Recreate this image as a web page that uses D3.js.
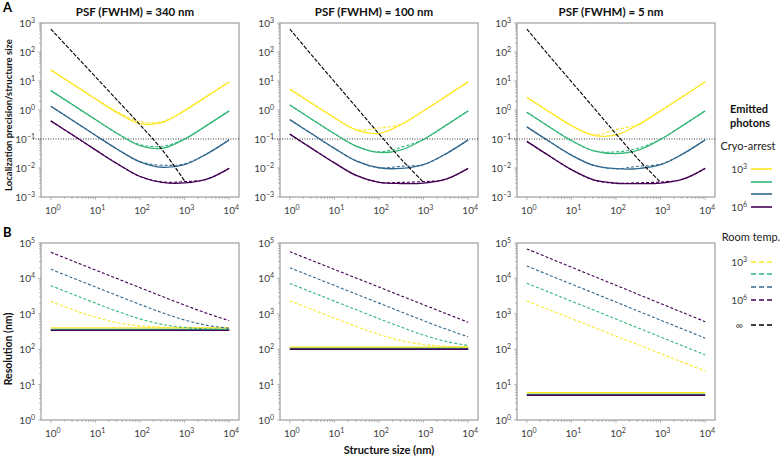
<!DOCTYPE html>
<html>
<head>
<meta charset="utf-8">
<script src="https://cdn.jsdelivr.net/npm/d3@7"></script>
<style>
  body { margin: 0; background: #fff; }
  text { font-family: Lato, "Open Sans", sans-serif; }
</style>
</head>
<body>
<svg id="chart" width="780" height="458"></svg>
<script>
// structure sizes (nm), half-decade steps
const sizes = [1, 3.16, 10, 31.6, 100, 316, 1000, 3162, 10000];
const psfTitles = ["PSF (FWHM) = 340 nm", "PSF (FWHM) = 100 nm", "PSF (FWHM) = 5 nm"];
const photonExp = ["3", "4", "5", "6"];
const colors = ["#fde725", "#35b779", "#31688e", "#440154"];
const xTicks = [0, 1, 2, 3, 4];
const yTicksA = [-3, -2, -1, 0, 1, 2, 3];
const yTicksB = [0, 1, 2, 3, 4, 5];

// A: localization precision / structure size, one row per photon count (1e3..1e6)
const precCryo340 = [
  [24.2, 7.65, 2.43, 0.794, 0.336, 0.372, 0.955, 2.95, 9.30],
  [4.67, 1.48, 0.469, 0.152, 0.0589, 0.0477, 0.0993, 0.296, 0.931],
  [1.35, 0.427, 0.135, 0.0436, 0.0164, 0.0106, 0.0132, 0.0308, 0.0935],
  [0.422, 0.134, 0.0423, 0.0137, 0.0051, 0.00318, 0.00305, 0.00411, 0.00973]
];
const precRoom340 = [
  [24.2, 7.65, 2.43, 0.84, 0.40, 0.40, 0.955, 2.95, 9.30],
  [4.67, 1.48, 0.469, 0.152, 0.064, 0.056, 0.100, 0.296, 0.931],
  [1.35, 0.427, 0.135, 0.0436, 0.0164, 0.0125, 0.0140, 0.0308, 0.0935],
  [0.422, 0.134, 0.0423, 0.0137, 0.0051, 0.0033, 0.0034, 0.00411, 0.00973]
];
const precInf340 = [620, 93, 14, 2.1, 0.31, 0.042, 0.0036, null, null];

const precCryo100 = [
  [5.26, 1.67, 0.538, 0.203, 0.156, 0.316, 0.937, 2.94, 9.30],
  [1.49, 0.472, 0.152, 0.0556, 0.0343, 0.0419, 0.0976, 0.296, 0.931],
  [0.466, 0.148, 0.0474, 0.0173, 0.0102, 0.00966, 0.0130, 0.0308, 0.0935],
  [0.147, 0.0466, 0.0150, 0.00546, 0.00322, 0.00292, 0.00302, 0.00411, 0.00973]
];
const precRoom100 = [
  [5.26, 1.67, 0.538, 0.21, 0.24, 0.33, 0.937, 2.94, 9.30],
  [1.49, 0.472, 0.152, 0.0556, 0.036, 0.052, 0.0976, 0.296, 0.931],
  [0.466, 0.148, 0.0474, 0.0173, 0.0102, 0.0115, 0.0133, 0.0308, 0.0935],
  [0.147, 0.0466, 0.0150, 0.00546, 0.00322, 0.0032, 0.0034, 0.00411, 0.00973]
];
const precInf100 = [620, 75, 9.5, 1.2, 0.15, 0.02, 0.0032, null, null];

const precCryo5 = [
  [2.74, 0.870, 0.291, 0.134, 0.138, 0.310, 0.935, 2.94, 9.30],
  [0.833, 0.265, 0.0881, 0.0392, 0.0315, 0.0413, 0.0974, 0.296, 0.931],
  [0.262, 0.0834, 0.0277, 0.0123, 0.00948, 0.00957, 0.0130, 0.0308, 0.0935],
  [0.0829, 0.0264, 0.00877, 0.00388, 0.00298, 0.00289, 0.00301, 0.00411, 0.00973]
];
const precRoom5 = [
  [2.74, 0.870, 0.291, 0.14, 0.21, 0.32, 0.935, 2.94, 9.30],
  [0.833, 0.265, 0.0881, 0.0392, 0.036, 0.048, 0.0974, 0.296, 0.931],
  [0.262, 0.0834, 0.0277, 0.0123, 0.00948, 0.0115, 0.0135, 0.0308, 0.0935],
  [0.0829, 0.0264, 0.00877, 0.00388, 0.00298, 0.0031, 0.0033, 0.00411, 0.00973]
];
const precInf5 = [620, 75, 9.5, 1.2, 0.15, 0.02, 0.0032, null, null];

// B: resolution (nm); cryo is flat per photon count
const resCryo340 = [400, 360, 345, 340];
const resRoom340 = [
  [2226, 1295, 800, 558, 456, 418, 406, 402, 401],
  [6240, 3521, 2003, 1165, 720, 502, 410, 377, 365],
  [18100, 10190, 5734, 3237, 1843, 1075, 668, 472, 390],
  [54600, 30700, 17270, 9716, 5471, 3089, 1760, 1029, 643]
];
const resCryo100 = [114, 105, 101, 100];
const resRoom100 = [
  [2353, 1326, 752, 433, 261, 174, 136, 121, 116],
  [7201, 4050, 2279, 1284, 728, 418, 251, 166, 127],
  [20000, 11247, 6325, 3557, 2003, 1130, 640, 370, 224],
  [56800, 31940, 17960, 10100, 5680, 3196, 1799, 1015, 577]
];
const resCryo5 = [5.9, 5.3, 5.05, 5.0];
const resRoom5 = [
  [2290, 1300, 733, 415, 234, 133, 75, 42.5, 24],
  [7300, 4074, 2275, 1271, 710, 396, 221, 124, 69],
  [22400, 12450, 6920, 3855, 2143, 1191, 662, 369, 205],
  [68000, 37700, 20800, 11500, 6400, 3530, 1950, 1080, 600]
];

const panelsA = [
  { cryo: precCryo340, room: precRoom340, inf: precInf340 },
  { cryo: precCryo100, room: precRoom100, inf: precInf100 },
  { cryo: precCryo5, room: precRoom5, inf: precInf5 }
];
const panelsB = [
  { cryo: resCryo340, room: resRoom340 },
  { cryo: resCryo100, room: resRoom100 },
  { cryo: resCryo5, room: resRoom5 }
];

const svg = d3.select("#chart");
const lefts = [41, 280, 517];
const panelW = 198;
const rowA = { top: 23, bottom: 197 };
const rowB = { top: 243, bottom: 420 };

function powLabel(g, x, y, exp, anchor, size) {
  const t = g.append("text")
    .attr("x", x).attr("y", y)
    .attr("text-anchor", anchor)
    .attr("font-size", size)
    .attr("fill", "#404040");
  t.append("tspan").text("10");
  t.append("tspan").attr("dy", -4).attr("font-size", size * 0.7).text(exp);
  return t;
}

function minorTicks(lo, hi) {
  const out = [];
  for (let e = lo; e < hi; e++) {
    for (let m = 2; m <= 9; m++) out.push(m * Math.pow(10, e));
  }
  return out;
}

function drawFrame(g, left, row, x, y, yExps) {
  const frameTicks = g.append("g").attr("stroke", "#aaa").attr("stroke-width", 0.8);
  // x ticks
  xTicks.forEach(e => {
    const px = x(Math.pow(10, e));
    frameTicks.append("line").attr("x1", px).attr("x2", px)
      .attr("y1", row.bottom).attr("y2", row.bottom + 3);
  });
  minorTicks(0, 4).forEach(v => {
    const px = x(v);
    frameTicks.append("line").attr("x1", px).attr("x2", px)
      .attr("y1", row.bottom).attr("y2", row.bottom + 2);
  });
  // y ticks
  yExps.forEach(e => {
    const py = y(Math.pow(10, e));
    frameTicks.append("line").attr("y1", py).attr("y2", py)
      .attr("x1", left).attr("x2", left - 3);
  });
  minorTicks(yExps[0], yExps[yExps.length - 1]).forEach(v => {
    const py = y(v);
    frameTicks.append("line").attr("y1", py).attr("y2", py)
      .attr("x1", left).attr("x2", left - 2);
  });

  g.append("rect")
    .attr("x", left).attr("y", row.top)
    .attr("width", panelW).attr("height", row.bottom - row.top)
    .attr("fill", "none").attr("stroke", "#8a8a8a").attr("stroke-width", 1);

  xTicks.forEach(e => {
    powLabel(g, x(Math.pow(10, e)) + 2, row.bottom + 17, String(e), "middle", 10);
  });
  yExps.forEach(e => {
    const lab = e < 0 ? "\u2212" + (-e) : String(e);
    powLabel(g, left - 6, y(Math.pow(10, e)) + 4, lab, "end", 10);
  });
}

function curve(x, y) {
  return d3.line()
    .defined(d => d[1] != null)
    .x(d => x(d[0]))
    .y(d => y(d[1]))
    .curve(d3.curveCatmullRom.alpha(0.5));
}

// row A
panelsA.forEach((p, i) => {
  const left = lefts[i];
  const g = svg.append("g");
  const x = d3.scaleLog().domain([Math.pow(10, -0.22), Math.pow(10, 4.22)]).range([left, left + panelW]);
  const y = d3.scaleLog().domain([1e-3, 1e3]).range([rowA.bottom, rowA.top]);
  drawFrame(g, left, rowA, x, y, yTicksA);

  g.append("line")
    .attr("x1", left - 8).attr("x2", left + panelW)
    .attr("y1", y(0.1)).attr("y2", y(0.1))
    .attr("stroke", "#222").attr("stroke-width", 0.9)
    .attr("stroke-dasharray", "1,1.5");

  const line = curve(x, y);
  p.cryo.forEach((vals, k) => {
    g.append("path").datum(sizes.map((s, j) => [s, vals[j]]))
      .attr("d", line).attr("fill", "none")
      .attr("stroke", colors[k]).attr("stroke-width", 1.3);
  });
  p.room.forEach((vals, k) => {
    g.append("path").datum(sizes.map((s, j) => [s, vals[j]]))
      .attr("d", line).attr("fill", "none")
      .attr("stroke", colors[k]).attr("stroke-width", 1.1)
      .attr("stroke-dasharray", "3,2");
  });
  g.append("path").datum(sizes.map((s, j) => [s, p.inf[j]]))
    .attr("d", line).attr("fill", "none")
    .attr("stroke", "#000").attr("stroke-width", 1.1)
    .attr("stroke-dasharray", "4,1.5");

  svg.append("text")
    .attr("x", left + panelW / 2 - 5).attr("y", 16)
    .attr("text-anchor", "middle")
    .attr("font-size", 11.5).attr("font-weight", "bold")
    .attr("fill", "#111")
    .text(psfTitles[i]);
});

// row B
panelsB.forEach((p, i) => {
  const left = lefts[i];
  const g = svg.append("g");
  const x = d3.scaleLog().domain([Math.pow(10, -0.22), Math.pow(10, 4.22)]).range([left, left + panelW]);
  const y = d3.scaleLog().domain([1, 1e5]).range([rowB.bottom, rowB.top]);
  drawFrame(g, left, rowB, x, y, yTicksB);

  const line = curve(x, y);
  p.cryo.forEach((v, k) => {
    g.append("path").datum([[sizes[0], v], [sizes[sizes.length - 1], v]])
      .attr("d", line).attr("fill", "none")
      .attr("stroke", colors[k]).attr("stroke-width", 1.4);
  });
  p.room.forEach((vals, k) => {
    g.append("path").datum(sizes.map((s, j) => [s, vals[j]]))
      .attr("d", line).attr("fill", "none")
      .attr("stroke", colors[k]).attr("stroke-width", 1.1)
      .attr("stroke-dasharray", "3,2");
  });
});

// panel letters and axis titles
svg.append("text").attr("x", 3).attr("y", 12)
  .attr("font-size", 13).attr("font-weight", "bold").text("A");
svg.append("text").attr("x", 3).attr("y", 237)
  .attr("font-size", 13).attr("font-weight", "bold").text("B");

svg.append("text")
  .attr("transform", "translate(12,115) rotate(-90)")
  .attr("text-anchor", "middle")
  .attr("font-size", 9.5).attr("font-weight", "bold").attr("fill", "#111")
  .text("Localization precision/structure size");
svg.append("text")
  .attr("transform", "translate(12,349) rotate(-90)")
  .attr("text-anchor", "middle")
  .attr("font-size", 10.5).attr("font-weight", "bold").attr("fill", "#111")
  .text("Resolution (nm)");
svg.append("text")
  .attr("x", 389).attr("y", 454)
  .attr("text-anchor", "middle")
  .attr("font-size", 11).attr("font-weight", "bold").attr("fill", "#111")
  .text("Structure size (nm)");

// legend
const leg = svg.append("g");
leg.append("text").attr("x", 749).attr("y", 113).attr("text-anchor", "middle")
  .attr("font-size", 11).attr("font-weight", "bold").attr("fill", "#111").text("Emitted");
leg.append("text").attr("x", 750).attr("y", 127).attr("text-anchor", "middle")
  .attr("font-size", 11).attr("font-weight", "bold").attr("fill", "#111").text("photons");
leg.append("text").attr("x", 748).attr("y", 150).attr("text-anchor", "middle")
  .attr("font-size", 11).attr("fill", "#222").text("Cryo-arrest");
leg.append("text").attr("x", 751).attr("y", 241).attr("text-anchor", "middle")
  .attr("font-size", 11).attr("fill", "#222").text("Room temp.");

const cryoRows = [169, 182, 194, 207];
const roomRows = [262, 274, 287, 300];
colors.forEach((c, k) => {
  leg.append("line").attr("x1", 751).attr("x2", 772)
    .attr("y1", cryoRows[k]).attr("y2", cryoRows[k])
    .attr("stroke", c).attr("stroke-width", 1.6);
  leg.append("line").attr("x1", 751).attr("x2", 772)
    .attr("y1", roomRows[k]).attr("y2", roomRows[k])
    .attr("stroke", c).attr("stroke-width", 1.6)
    .attr("stroke-dasharray", "5,3");
});
leg.append("line").attr("x1", 751).attr("x2", 772)
  .attr("y1", 325).attr("y2", 325)
  .attr("stroke", "#000").attr("stroke-width", 1.6)
  .attr("stroke-dasharray", "5,3");

[0, 3].forEach(k => {
  powLabel(leg, 747, cryoRows[k] + 4, photonExp[k], "end", 10);
  powLabel(leg, 747, roomRows[k] + 4, photonExp[k], "end", 10);
});
leg.append("text").attr("x", 743).attr("y", 329).attr("text-anchor", "end")
  .attr("font-size", 10).attr("fill", "#404040").text("\u221e");
</script>
</body>
</html>
